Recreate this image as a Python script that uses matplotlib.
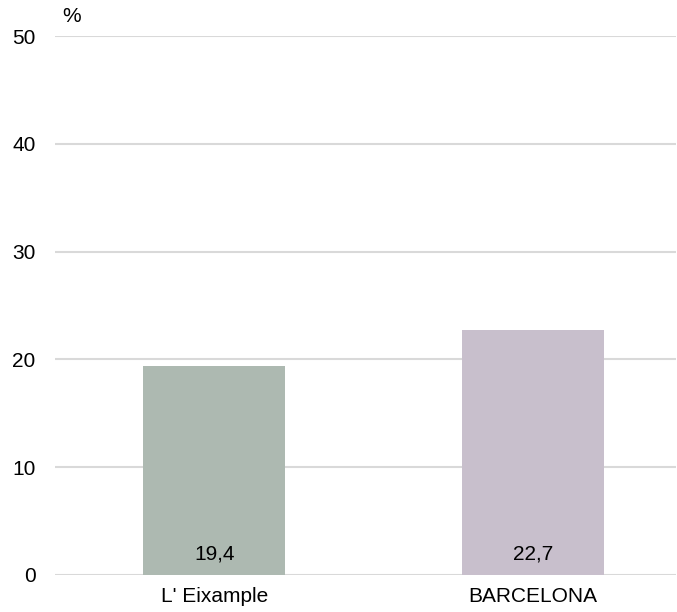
import matplotlib
matplotlib.use("Agg")
import matplotlib.pyplot as plt

categories = ["L' Eixample", "BARCELONA"]
values = [19.4, 22.7]
value_labels = ["19,4", "22,7"]
colors = ["#adb9b1", "#c8bfcc"]
yticks = [0, 10, 20, 30, 40, 50]

plt.rcParams['font.family'] = ['Liberation Sans', 'DejaVu Sans']

fig = plt.figure(figsize=(6.77, 6.12), dpi=100)
ax = fig.add_axes([55/677, 1-575/612, (676-55)/677, (575-36)/612])

x = list(range(len(categories)))
ax.bar(x, values, width=0.447, color=colors, zorder=3)
ax.set_ylim(0, 50)
ax.set_xlim(-0.5, 1.45)
ax.set_yticks(yticks)
ax.set_yticklabels([str(t) for t in yticks])
ax.set_xticks(x)
ax.set_xticklabels(categories)
ax.tick_params(axis='both', length=0, labelsize=15, colors='black')
ax.tick_params(axis='y', pad=14)
ax.tick_params(axis='x', pad=9)
ax.grid(axis='y', color='#d9d9d9', linewidth=1.5, zorder=0)
for s in ax.spines.values():
    s.set_visible(False)

for xi, lab in zip(x, value_labels):
    ax.annotate(lab, (xi, 0), xytext=(0, 15), textcoords='offset points',
                ha='center', va='center', fontsize=15, color='black', zorder=4)

fig.text(62/677, 1-17/612, "%", fontsize=15, ha='left', va='center')

fig.savefig("out.png", dpi=100)
